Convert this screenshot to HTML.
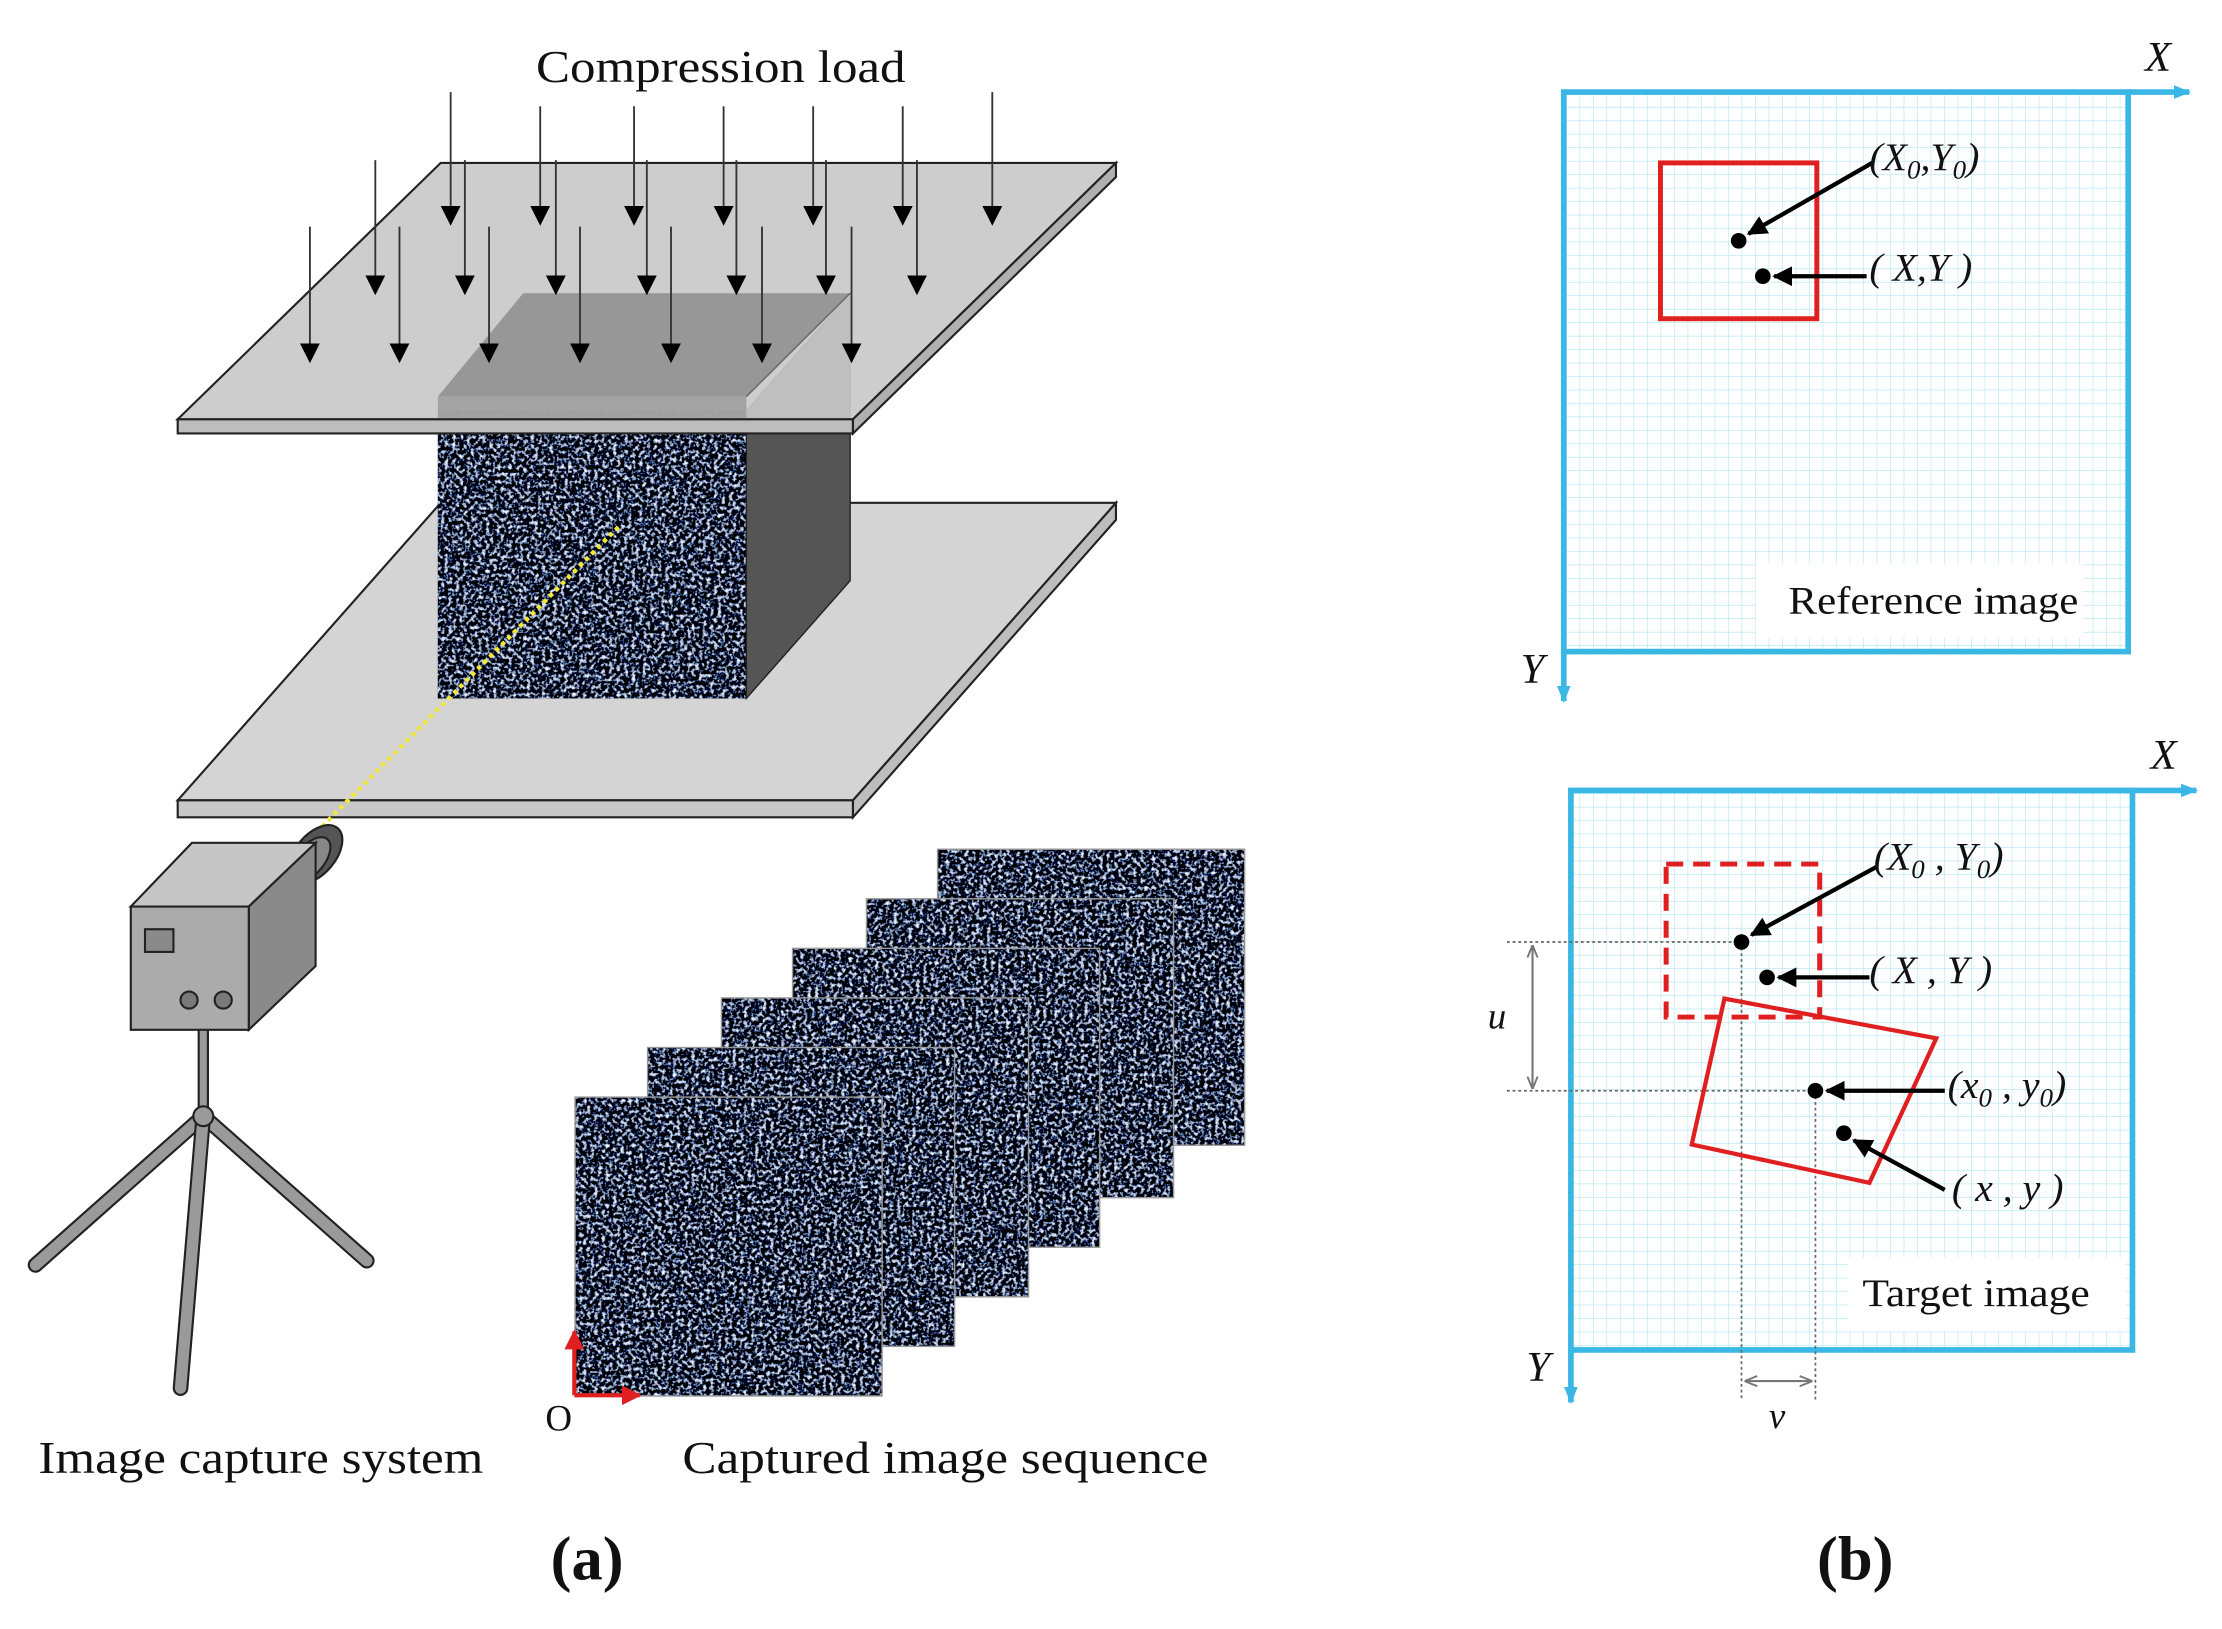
<!DOCTYPE html>
<html><head><meta charset="utf-8"><style>
html,body{margin:0;padding:0;background:#fff}
svg{display:block}
text{font-family:"Liberation Serif",serif;fill:#111}
</style></head><body>
<svg width="2222" height="1629" viewBox="0 0 1563 1150" preserveAspectRatio="none" xmlns="http://www.w3.org/2000/svg">
<defs>
<filter id="spk" x="0" y="0" width="100%" height="100%">
<feTurbulence type="fractalNoise" baseFrequency="0.38" numOctaves="2" seed="4" result="n"/>
<feColorMatrix in="n" type="matrix" values="0 0 0 3.0 -1.55  0 0 0 3.1 -1.55  0 0 0 3.4 -1.6  0 0 0 0 1" result="c"/>
<feComposite in="c" in2="SourceGraphic" operator="in"/>
</filter>
<pattern id="grid" width="9.5" height="9.5" patternUnits="userSpaceOnUse">
<path d="M9.5 0V9.5H0" fill="none" stroke="#aee3f0" stroke-width="0.8"/>
</pattern>
<marker id="ahb" viewBox="0 0 10 10" markerWidth="14" markerHeight="14" refX="9" refY="5" orient="auto" markerUnits="userSpaceOnUse"><path d="M0,0 L10,5 L0,10 z" fill="#000"/></marker>
<marker id="ahc" viewBox="0 0 10 10" markerWidth="12" markerHeight="12" refX="9" refY="5" orient="auto" markerUnits="userSpaceOnUse"><path d="M0,1 L10,5 L0,9 z" fill="#3bb7e6"/></marker>
<marker id="ahr" viewBox="0 0 10 10" markerWidth="14" markerHeight="14" refX="9" refY="5" orient="auto" markerUnits="userSpaceOnUse"><path d="M0,0 L10,5 L0,10 z" fill="#e02020"/></marker>
<marker id="ahg" viewBox="0 0 10 10" markerWidth="9" markerHeight="9" refX="9" refY="5" orient="auto-start-reverse" markerUnits="userSpaceOnUse"><path d="M0,1 L10,5 L0,9" fill="none" stroke="#777" stroke-width="1.5"/></marker>
</defs>

<polygon points="125,565 310,355 785,355 600,565" fill="#d4d4d4" stroke="#222" stroke-width="1.5"/>
<polygon points="125,565 600,565 600,577 125,577" fill="#c8c8c8" stroke="#222" stroke-width="1.5"/>
<polygon points="600,565 785,355 785,367 600,577" fill="#bdbdbd" stroke="#222" stroke-width="1.5"/>

<rect x="308" y="290" width="217" height="203" fill="#1a2030"/>
<rect x="308" y="290" width="217" height="203" fill="#000" filter="url(#spk)"/>
<polygon points="525,290 598,207 598,410 525,493" fill="#555" stroke="#222" stroke-width="1"/>
<line x1="435" y1="372" x2="225" y2="585" stroke="#f2e83a" stroke-width="3" stroke-dasharray="3,3"/>

<polygon points="125,296 310,115 785,115 600,296" fill="#c9c9c9" fill-opacity="0.92" stroke="#222" stroke-width="1.5"/>
<polygon points="308,280 368,207 598,207 525,280" fill="#939393" opacity="0.95"/>
<rect x="308" y="280" width="217" height="16" fill="#9a9a9a" opacity="0.8"/>
<line x1="525" y1="280" x2="598" y2="207" stroke="#666"/>
<polygon points="125,296 600,296 600,306 125,306" fill="#bdbdbd" stroke="#222" stroke-width="1.5"/>
<polygon points="600,296 785,115 785,125 600,306" fill="#b0b0b0" stroke="#222" stroke-width="1.5"/>

<g stroke="#333" stroke-width="1.3" marker-end="url(#ahb)">
<line x1="317" y1="65" x2="317" y2="158"/><line x1="380" y1="75" x2="380" y2="158"/><line x1="446" y1="75" x2="446" y2="158"/><line x1="509" y1="75" x2="509" y2="158"/><line x1="572" y1="75" x2="572" y2="158"/><line x1="635" y1="75" x2="635" y2="158"/><line x1="698" y1="65" x2="698" y2="158"/>
<line x1="264" y1="113" x2="264" y2="207"/><line x1="327" y1="113" x2="327" y2="207"/><line x1="391" y1="113" x2="391" y2="207"/><line x1="455" y1="113" x2="455" y2="207"/><line x1="518" y1="113" x2="518" y2="207"/><line x1="581" y1="113" x2="581" y2="207"/><line x1="645" y1="113" x2="645" y2="207"/>
<line x1="218" y1="160" x2="218" y2="255"/><line x1="281" y1="160" x2="281" y2="255"/><line x1="344" y1="160" x2="344" y2="255"/><line x1="408" y1="160" x2="408" y2="255"/><line x1="472" y1="160" x2="472" y2="255"/><line x1="536" y1="160" x2="536" y2="255"/><line x1="599" y1="160" x2="599" y2="255"/>
</g>
<text x="377" y="58" font-size="32" textLength="260" lengthAdjust="spacingAndGlyphs">Compression load</text>

<g stroke="#222" stroke-width="1.5" stroke-linecap="round">
<line x1="143" y1="788" x2="25" y2="893" stroke="#222" stroke-width="11"/>
<line x1="143" y1="788" x2="25" y2="893" stroke="#9a9a9a" stroke-width="8"/>
<line x1="143" y1="788" x2="258" y2="890" stroke="#222" stroke-width="11"/>
<line x1="143" y1="788" x2="258" y2="890" stroke="#9a9a9a" stroke-width="8"/>
<line x1="143" y1="788" x2="127" y2="980" stroke="#222" stroke-width="11"/>
<line x1="143" y1="788" x2="127" y2="980" stroke="#9a9a9a" stroke-width="8"/>
<line x1="143" y1="720" x2="143" y2="790" stroke="#222" stroke-width="8"/>
<line x1="143" y1="720" x2="143" y2="790" stroke="#9a9a9a" stroke-width="5"/>
<circle cx="143" cy="788" r="7" fill="#9a9a9a"/>
</g>
<g stroke="#222" stroke-width="1.5">
<ellipse cx="222" cy="603" rx="14" ry="24" transform="rotate(40 222 603)" fill="#555"/>
<ellipse cx="218" cy="607" rx="10" ry="19" transform="rotate(40 218 607)" fill="#888"/>
<polygon points="92,640 135,595 222,595 175,640" fill="#c6c6c6"/>
<polygon points="175,640 222,595 222,682 175,727" fill="#8a8a8a"/>
<rect x="92" y="640" width="83" height="87" fill="#ababab"/>
<rect x="102" y="656" width="20" height="16" fill="#8a8a8a"/>
<circle cx="133" cy="706" r="6" fill="#7a7a7a"/>
<circle cx="157" cy="706" r="6" fill="#7a7a7a"/>
</g>
<text x="27" y="1040" font-size="32" textLength="313" lengthAdjust="spacingAndGlyphs">Image capture system</text>

<g stroke="#999" stroke-width="2">
<rect x="660" y="600" width="215" height="208" fill="#1a2030"/><rect x="660" y="600" width="215" height="208" filter="url(#spk)" stroke="none"/>
<rect x="610" y="635" width="215" height="210" fill="#1a2030"/><rect x="610" y="635" width="215" height="210" filter="url(#spk)" stroke="none"/>
<rect x="558" y="670" width="215" height="210" fill="#1a2030"/><rect x="558" y="670" width="215" height="210" filter="url(#spk)" stroke="none"/>
<rect x="508" y="705" width="215" height="210" fill="#1a2030"/><rect x="508" y="705" width="215" height="210" filter="url(#spk)" stroke="none"/>
<rect x="456" y="740" width="215" height="210" fill="#1a2030"/><rect x="456" y="740" width="215" height="210" filter="url(#spk)" stroke="none"/>
<rect x="405" y="775" width="215" height="210" fill="#1a2030"/><rect x="405" y="775" width="215" height="210" filter="url(#spk)" stroke="none"/>
</g>
<g stroke="#e02020" stroke-width="3">
<line x1="404" y1="985" x2="404" y2="940" marker-end="url(#ahr)"/>
<line x1="404" y1="985" x2="450" y2="985" marker-end="url(#ahr)"/>
</g>
<text x="393" y="1010" font-size="26" text-anchor="middle">O</text>
<text x="480" y="1040" font-size="32" textLength="370" lengthAdjust="spacingAndGlyphs">Captured image sequence</text>
<text x="413" y="1115" font-size="44" font-weight="bold" text-anchor="middle" style="font-family:'Liberation Serif',serif">(a)</text>
<text x="1305" y="1115" font-size="44" font-weight="bold" text-anchor="middle" style="font-family:'Liberation Serif',serif">(b)</text>

<rect x="1100" y="65" width="397" height="395" fill="url(#grid)"/>
<rect x="1100" y="65" width="397" height="395" fill="none" stroke="#3bb7e6" stroke-width="4"/>
<line x1="1497" y1="65" x2="1540" y2="65" stroke="#3bb7e6" stroke-width="4" marker-end="url(#ahc)"/>
<line x1="1100" y1="460" x2="1100" y2="495" stroke="#3bb7e6" stroke-width="4" marker-end="url(#ahc)"/>
<text x="1518" y="50" font-size="30" font-style="italic" text-anchor="middle">X</text>
<text x="1078" y="482" font-size="30" font-style="italic" text-anchor="middle">Y</text>
<rect x="1168" y="115" width="110" height="110" fill="none" stroke="#e02020" stroke-width="3.5"/>
<circle cx="1223" cy="170" r="5.5" fill="#000"/><circle cx="1240" cy="195" r="5.5" fill="#000"/>
<line x1="1317" y1="115" x2="1230" y2="165" stroke="#000" stroke-width="3" marker-end="url(#ahb)"/>
<line x1="1313" y1="195" x2="1248" y2="195" stroke="#000" stroke-width="3" marker-end="url(#ahb)"/>
<text x="1315" y="120" font-size="28" font-style="italic">(X<tspan font-size="19" dy="6">0</tspan><tspan dy="-6">,Y</tspan><tspan font-size="19" dy="6">0</tspan><tspan dy="-6">)</tspan></text>
<text x="1315" y="198" font-size="28" font-style="italic">( X,Y )</text>
<rect x="1235" y="398" width="230" height="52" fill="#fff"/>
<text x="1258" y="433" font-size="28" textLength="204" lengthAdjust="spacingAndGlyphs">Reference image</text>

<rect x="1105" y="558" width="395" height="395" fill="url(#grid)"/>
<rect x="1105" y="558" width="395" height="395" fill="none" stroke="#3bb7e6" stroke-width="4"/>
<line x1="1500" y1="558" x2="1545" y2="558" stroke="#3bb7e6" stroke-width="4" marker-end="url(#ahc)"/>
<line x1="1105" y1="953" x2="1105" y2="990" stroke="#3bb7e6" stroke-width="4" marker-end="url(#ahc)"/>
<text x="1522" y="543" font-size="30" font-style="italic" text-anchor="middle">X</text>
<text x="1082" y="975" font-size="30" font-style="italic" text-anchor="middle">Y</text>
<g stroke="#666" stroke-width="1.2" stroke-dasharray="2,2">
<line x1="1060" y1="665" x2="1225" y2="665"/><line x1="1060" y1="770" x2="1277" y2="770"/>
<line x1="1225" y1="665" x2="1225" y2="988"/><line x1="1277" y1="770" x2="1277" y2="988"/>
</g>
<line x1="1078" y1="668" x2="1078" y2="768" stroke="#777" stroke-width="1.5" marker-start="url(#ahg)" marker-end="url(#ahg)"/>
<line x1="1228" y1="975" x2="1274" y2="975" stroke="#777" stroke-width="1.5" marker-start="url(#ahg)" marker-end="url(#ahg)"/>
<text x="1053" y="726" font-size="26" font-style="italic" text-anchor="middle">u</text>
<text x="1250" y="1008" font-size="26" font-style="italic" text-anchor="middle">v</text>
<rect x="1172" y="610" width="108" height="108" fill="none" stroke="#e02020" stroke-width="3.5" stroke-dasharray="12,7"/>
<polygon points="1213,705 1362,733 1315,835 1190,808" fill="none" stroke="#e02020" stroke-width="3"/>
<circle cx="1225" cy="665" r="5.5" fill="#000"/><circle cx="1243" cy="690" r="5.5" fill="#000"/>
<circle cx="1277" cy="770" r="5.5" fill="#000"/><circle cx="1297" cy="800" r="5.5" fill="#000"/>
<line x1="1320" y1="612" x2="1232" y2="660" stroke="#000" stroke-width="3" marker-end="url(#ahb)"/>
<line x1="1315" y1="690" x2="1251" y2="690" stroke="#000" stroke-width="3" marker-end="url(#ahb)"/>
<line x1="1368" y1="770" x2="1285" y2="770" stroke="#000" stroke-width="3" marker-end="url(#ahb)"/>
<line x1="1368" y1="840" x2="1304" y2="805" stroke="#000" stroke-width="3" marker-end="url(#ahb)"/>
<text x="1318" y="614" font-size="28" font-style="italic">(X<tspan font-size="19" dy="6">0</tspan><tspan dy="-6"> , Y</tspan><tspan font-size="19" dy="6">0</tspan><tspan dy="-6">)</tspan></text>
<text x="1315" y="694" font-size="28" font-style="italic">( X , Y )</text>
<text x="1370" y="775" font-size="28" font-style="italic">(x<tspan font-size="19" dy="6">0</tspan><tspan dy="-6"> , y</tspan><tspan font-size="19" dy="6">0</tspan><tspan dy="-6">)</tspan></text>
<text x="1373" y="848" font-size="28" font-style="italic">( x , y )</text>
<rect x="1300" y="888" width="195" height="52" fill="#fff"/>
<text x="1310" y="922" font-size="28" textLength="160" lengthAdjust="spacingAndGlyphs">Target image</text>
</svg>
</body></html>
